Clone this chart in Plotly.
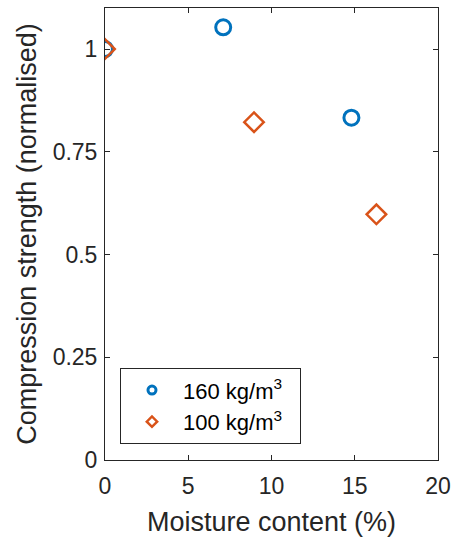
import plotly.graph_objects as go

moisture_160 = [0.0, 7.1, 14.8]
strength_160 = [1.0, 1.053, 0.833]
moisture_100 = [0.0, 8.95, 16.3]
strength_100 = [1.0, 0.822, 0.598]
x_ticks = [0, 5, 10, 15, 20]
y_ticks = [0, 0.25, 0.5, 0.75, 1]
y_tick_labels = ["0", "0.25", "0.5", "0.75", "1"]

blue = "#0072BD"
orange = "#D95319"
font = "Liberation Sans, Arial, sans-serif"

fig = go.Figure()
fig.add_trace(go.Scatter(x=moisture_160, y=strength_160, mode="markers", showlegend=False,
                         marker=dict(symbol="circle-open", size=15, color=blue, line=dict(width=3, color=blue))))
fig.add_trace(go.Scatter(x=moisture_100, y=strength_100, mode="markers", showlegend=False,
                         marker=dict(symbol="diamond-open", size=15, color=orange, line=dict(width=2.5, color=orange))))
# legend entries with small markers
fig.add_trace(go.Scatter(x=[None], y=[None], mode="markers", name="160 kg/m<sup>3</sup>&nbsp;&nbsp;",
                         marker=dict(symbol="circle-open", size=8, color=blue, line=dict(width=3, color=blue))))
fig.add_trace(go.Scatter(x=[None], y=[None], mode="markers", name="100 kg/m<sup>3</sup>&nbsp;&nbsp;",
                         marker=dict(symbol="diamond-open", size=8, color=orange, line=dict(width=2.5, color=orange))))

axis_common = dict(showline=True, linecolor="#262626", linewidth=1, mirror="ticks", ticks="inside",
                   ticklen=5, tickcolor="#262626", showgrid=False, zeroline=False,
                   tickfont=dict(family=font, size=23, color="#262626"))

fig.update_layout(
    width=458, height=543,
    margin=dict(l=105, r=16, t=7, b=83),
    plot_bgcolor="white", paper_bgcolor="white",
    font=dict(family=font, color="#262626"),
    xaxis=dict(range=[0, 20], tickvals=x_ticks, ticklabelstandoff=5,
               title=dict(text="Moisture content (%)", font=dict(family=font, size=27, color="#262626"), standoff=14),
               **axis_common),
    yaxis=dict(range=[0, 1.1], tickvals=y_ticks, ticktext=y_tick_labels, ticklabelstandoff=2,
               title=dict(text="Compression strength (normalised)", font=dict(family=font, size=27, color="#262626"), standoff=8),
               **axis_common),
    legend=dict(x=0.045, y=0.203, xanchor="left", yanchor="top", bgcolor="white",
                bordercolor="#262626", borderwidth=1,
                font=dict(family=font, size=22, color="black"),
                itemwidth=52, tracegroupgap=4),
)

fig.write_html("out.html")
